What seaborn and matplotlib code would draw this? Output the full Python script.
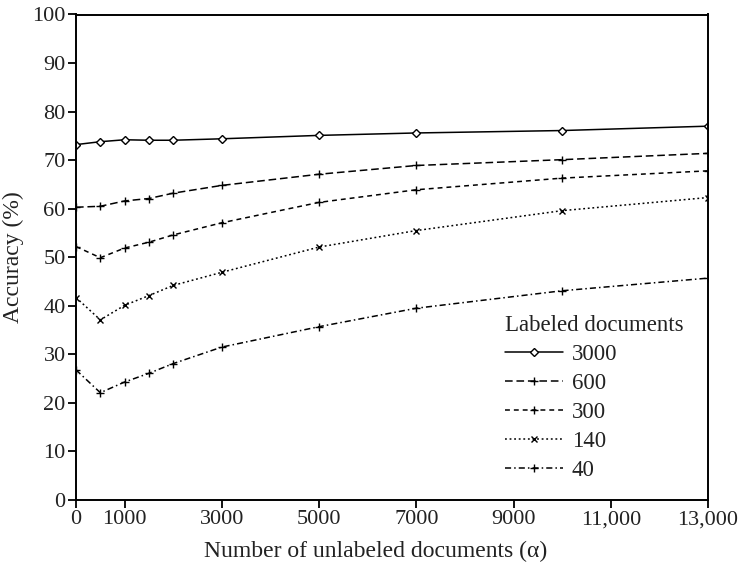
import matplotlib
matplotlib.use("Agg")
import matplotlib.pyplot as plt
import seaborn as sns
import pandas as pd

# Unlabeled document counts on the x axis
unlabeled = [0, 500, 1000, 1500, 2000, 3000, 5000, 7000, 10000, 13000]

# Accuracy (%) for each number of labeled documents
acc_3000 = [73.2, 73.8, 74.2, 74.1, 74.1, 74.4, 75.1, 75.6, 76.1, 77.0]
acc_600 = [60.3, 60.5, 61.6, 62.1, 63.2, 64.8, 67.1, 68.9, 70.1, 71.4]
acc_300 = [52.2, 49.9, 51.9, 53.1, 54.6, 57.1, 61.3, 63.9, 66.3, 67.8]
acc_140 = [41.7, 37.1, 40.1, 42.1, 44.2, 46.9, 52.1, 55.5, 59.6, 62.3]
acc_40 = [26.8, 22.1, 24.3, 26.1, 28.1, 31.5, 35.7, 39.5, 43.1, 45.7]

series_names = ["3000", "600", "300", "140", "40"]
series_values = [acc_3000, acc_600, acc_300, acc_140, acc_40]

x_ticks = [0, 1000, 3000, 5000, 7000, 9000, 11000, 13000]
x_tick_labels = ["0", "1000", "3000", "5000", "7000", "9000", "11,000", "13,000"]
y_ticks = list(range(0, 101, 10))

rows = []
for name, vals in zip(series_names, series_values):
    for xv, yv in zip(unlabeled, vals):
        rows.append({"unlabeled": xv, "accuracy": yv, "labeled": name})
df = pd.DataFrame(rows)

sns.set_theme(style="ticks")
plt.rcParams["font.family"] = ["Liberation Serif", "DejaVu Serif"]

fig = plt.figure(figsize=(7.4, 5.7), dpi=100)
ax = fig.add_axes([76 / 740, 1 - 500 / 570, 632 / 740, 485.5 / 570])

dashes = {
    "3000": "",
    "600": (5, 2.5),
    "300": (3.2, 2.6),
    "140": (1.2, 1.8),
    "40": (4, 2, 1, 2),
}
palette = {n: "black" for n in series_names}

sns.lineplot(
    data=df, x="unlabeled", y="accuracy", hue="labeled", style="labeled",
    hue_order=series_names, style_order=series_names,
    palette=palette, dashes=dashes, markers=False, linewidth=1.1, ax=ax,
    legend=False,
)

# small thin-stroke markers on each series
mk = {"3000": "D", "600": "+", "300": "+", "140": "x", "40": "+"}
ms = {"3000": 4.0, "600": 5.5, "300": 5.5, "140": 5.0, "40": 5.5}
handles = []
for name, line in zip(series_names, ax.get_lines()):
    line.set_marker(mk[name])
    line.set_markersize(ms[name])
    line.set_markeredgewidth(1.0)
    line.set_markeredgecolor("black")
    line.set_markerfacecolor("white")
    handles.append(line)

ax.set_xlim(0, 13000)
ax.set_ylim(0, 100)
ax.set_xticks(x_ticks)
ax.set_xticklabels(x_tick_labels)
ax.set_yticks(y_ticks)
ax.tick_params(axis="both", labelsize=16, length=5.5, width=1.3, color="black",
               labelcolor="#222222", pad=2)
for sp in ax.spines.values():
    sp.set_color("black")
    sp.set_linewidth(1.4)

ax.set_xlabel("Number of unlabeled documents (α)", fontsize=17, color="#222222")
ax.xaxis.set_label_coords((376 - 76) / 632, -0.085)
ax.set_ylabel("Accuracy (%)", fontsize=17, color="#222222", labelpad=6)

leg = ax.legend(handles, series_names, title="Labeled documents", frameon=False,
                loc="upper left", bbox_to_anchor=(0.665, 0.40), borderaxespad=0,
                handlelength=2.5, handletextpad=0.4, labelspacing=0.35,
                fontsize=16.5, title_fontsize=16.5, alignment="left")
for t in leg.get_texts():
    t.set_color("#222222")
leg.get_title().set_color("#222222")

fig.savefig("out.png", dpi=100)
